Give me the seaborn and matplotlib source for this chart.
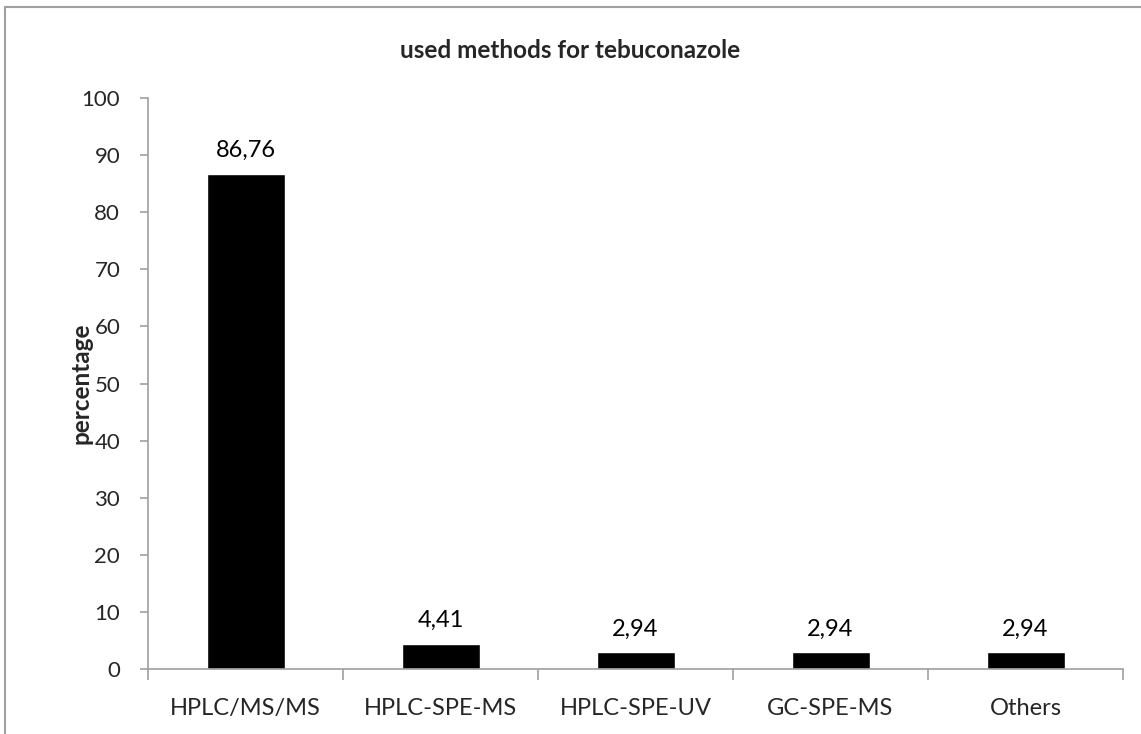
import matplotlib
matplotlib.use("Agg")
import matplotlib.pyplot as plt
import seaborn as sns
import pandas as pd
from matplotlib.patches import Rectangle

# dados do gráfico
metodos = ["HPLC/MS/MS", "HPLC-SPE-MS", "HPLC-SPE-UV", "GC-SPE-MS", "Others"]
percentuais = [86.76, 4.41, 2.94, 2.94, 2.94]
rotulos = ["86,76", "4,41", "2,94", "2,94", "2,94"]
yticks = [0, 10, 20, 30, 40, 50, 60, 70, 80, 90, 100]

sns.set_theme(style="white")
plt.rcParams["font.family"] = ["Lato", "DejaVu Sans"]

df = pd.DataFrame({"metodo": metodos, "pct": percentuais})

fig = plt.figure(figsize=(11.41, 7.34), dpi=100)
ax = fig.add_axes([148 / 1141, 1 - 669 / 734, (1123 - 148) / 1141, (669 - 98) / 734])

sns.barplot(data=df, x="metodo", y="pct", color="black", width=0.4,
            saturation=1, ax=ax)

for i, (v, r) in enumerate(zip(percentuais, rotulos)):
    ax.annotate(r, (i, v), xytext=(0, 9), textcoords="offset points",
                ha="center", va="bottom", fontsize=17, color="black")

ax.set_ylim(0, 100)
ax.set_xlim(-0.5, len(metodos) - 0.5)
ax.set_yticks(yticks)
ax.set_yticklabels([str(t) for t in yticks], fontsize=16)

# ticks do eixo x nas fronteiras, rótulos no centro
ax.set_xticks([i - 0.5 for i in range(len(metodos) + 1)])
ax.set_xticklabels([])
ax.set_xticks(range(len(metodos)), minor=True)
ax.set_xticklabels(metodos, minor=True, fontsize=17)
ax.tick_params(axis="x", which="major", length=8, width=1.2, color="#a0a0a0", direction="out", bottom=True)
ax.tick_params(axis="x", which="minor", length=0, pad=21)
ax.tick_params(axis="y", length=6, width=1.2, color="#a0a0a0", direction="out", left=True, pad=14)

ax.set_xlabel("")
ax.set_ylabel("percentage", fontsize=17.5, fontweight="bold")
ax.yaxis.set_label_coords(-0.057, 0.5)

for s in ["top", "right"]:
    ax.spines[s].set_visible(False)
for s in ["left", "bottom"]:
    ax.spines[s].set_color("#a0a0a0")
    ax.spines[s].set_linewidth(1.2)

fig.text(0.5, 1 - 50 / 734, "used methods for tebuconazole", ha="center", va="center",
         fontsize=17.5, fontweight="bold")

# moldura do gráfico
fig.patches.append(Rectangle((5 / 1141, -0.2), 1.5, 1.2 - 7 / 734,
                             transform=fig.transFigure, fill=False,
                             edgecolor="#a0a0a0", linewidth=1.5))

fig.savefig("out.png", dpi=100)
